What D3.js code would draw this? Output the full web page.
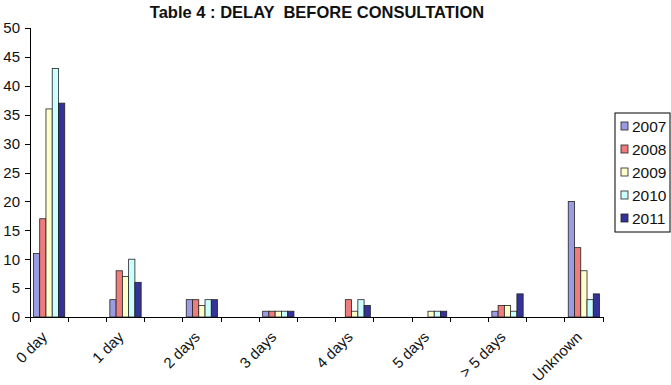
<!doctype html>
<html lang="en">
<head>
<meta charset="utf-8">
<title>Table 4 : Delay before consultation</title>
<script src="https://cdn.jsdelivr.net/npm/d3@7"></script>
<style>
	body { margin: 0; background: #fff; }
	text { font-family: "Liberation Sans", Arial, sans-serif; fill: #111; }
	.axis path, .axis line { stroke: #000; shape-rendering: crispEdges; }
</style>
</head>
<body>
<div id="viz"></div>
<script>
// categories as printed on the axis (Excel left an empty slot between each)
var categories = ["0 day", "1 day", "2 days", "3 days", "4 days", "5 days", "> 5 days", "Unknown"];
var years = ["2007", "2008", "2009", "2010", "2011"];

var v2007 = [11, 3, 3, 1, 0, 0, 1, 20];
var v2008 = [17, 8, 3, 1, 3, 0, 2, 12];
var v2009 = [36, 7, 2, 1, 1, 1, 2, 8];
var v2010 = [43, 10, 3, 1, 3, 1, 1, 3];
var v2011 = [37, 6, 3, 1, 2, 1, 4, 4];

var yTicks = [0, 5, 10, 15, 20, 25, 30, 35, 40, 45, 50];

(function(d3) {

	var w = 671, h = 385;
	var margin = {top: 28, left: 30, right: 68, bottom: 68};
	var plotBottom = h - margin.bottom;

	var series = [v2007, v2008, v2009, v2010, v2011];
	var colors = ["#9a9be0", "#ee7c7c", "#ffffcc", "#ccffff", "#333399"];

	// 15 slots: a category every other slot
	var slots = d3.range(categories.length * 2 - 1);

	var x0 = d3.scaleBand()
		.domain(slots)
		.range([margin.left, 603]);

	var x1 = d3.scaleBand()
		.domain(years)
		.range([0, x0.bandwidth()])
		.paddingOuter(0.55);

	var y = d3.scaleLinear()
		.domain([0, 50])
		.range([plotBottom, margin.top]);

	var svg = d3.select("#viz")
		.append("svg")
		.attr("width", w)
		.attr("height", h);

	svg.append("text")
		.attr("x", 317)
		.attr("y", 18)
		.attr("text-anchor", "middle")
		.attr("xml:space", "preserve")
		.style("font-weight", "bold")
		.style("font-size", "16.5px")
		.text("Table 4 : DELAY  BEFORE CONSULTATION");

	// y axis
	var yAxis = d3.axisLeft(y)
		.tickValues(yTicks)
		.tickSize(5)
		.tickPadding(5);

	var gy = svg.append("g")
		.attr("class", "axis")
		.attr("transform", "translate(" + margin.left + ",0)")
		.call(yAxis);
	gy.selectAll("text")
		.style("font-size", "15px")
		.attr("font-family", null);

	// bars
	var groups = svg.selectAll("g.cat")
		.data(categories)
		.enter()
		.append("g")
		.attr("class", "cat")
		.attr("transform", (d, i) => "translate(" + x0(i * 2) + ",0)");

	groups.selectAll("rect")
		.data((d, i) => years.map((yr, j) => ({year: yr, value: series[j][i], j: j})).filter(b => b.value > 0))
		.enter()
		.append("rect")
		.attr("x", d => x1(d.year))
		.attr("width", x1.bandwidth())
		.attr("y", d => y(d.value))
		.attr("height", d => y(0) - y(d.value))
		.style("fill", d => colors[d.j])
		.style("stroke", "#222")
		.style("stroke-width", 0.8);

	// x axis: ticks between every slot
	var gx = svg.append("g")
		.attr("class", "axis")
		.attr("transform", "translate(0," + plotBottom + ")");
	gx.append("line")
		.attr("x1", margin.left)
		.attr("x2", 603)
		.attr("y1", 0)
		.attr("y2", 0);
	gx.selectAll("line.tick")
		.data(slots.concat([slots.length]))
		.enter()
		.append("line")
		.attr("class", "tick")
		.attr("x1", d => d < slots.length ? x0(d) : x0.range()[1])
		.attr("x2", d => d < slots.length ? x0(d) : x0.range()[1])
		.attr("y1", 0)
		.attr("y2", 5);

	gx.selectAll("text")
		.data(categories)
		.enter()
		.append("text")
		.attr("text-anchor", "end")
		.style("font-size", "15px")
		.attr("transform", (d, i) => "translate(" + (x0(i * 2) + x0.bandwidth() / 2 - 1) + ",21) rotate(-45)")
		.text(d => d);

	// legend
	var legend = svg.append("g")
		.attr("transform", "translate(615,113)");
	legend.append("rect")
		.attr("width", 55)
		.attr("height", 119)
		.style("fill", "#fff")
		.style("stroke", "#000")
		.style("stroke-width", 1);
	var items = legend.selectAll("g.item")
		.data(years)
		.enter()
		.append("g")
		.attr("class", "item")
		.attr("transform", (d, i) => "translate(0," + (13 + i * 23) + ")");
	items.append("rect")
		.attr("x", 6)
		.attr("y", -4)
		.attr("width", 7)
		.attr("height", 8)
		.style("fill", (d, i) => colors[i])
		.style("stroke", "#222")
		.style("stroke-width", 0.8);
	items.append("text")
		.attr("x", 17)
		.attr("y", 6)
		.style("font-size", "15.5px")
		.text(d => d);

})(d3);
</script>
</body>
</html>
